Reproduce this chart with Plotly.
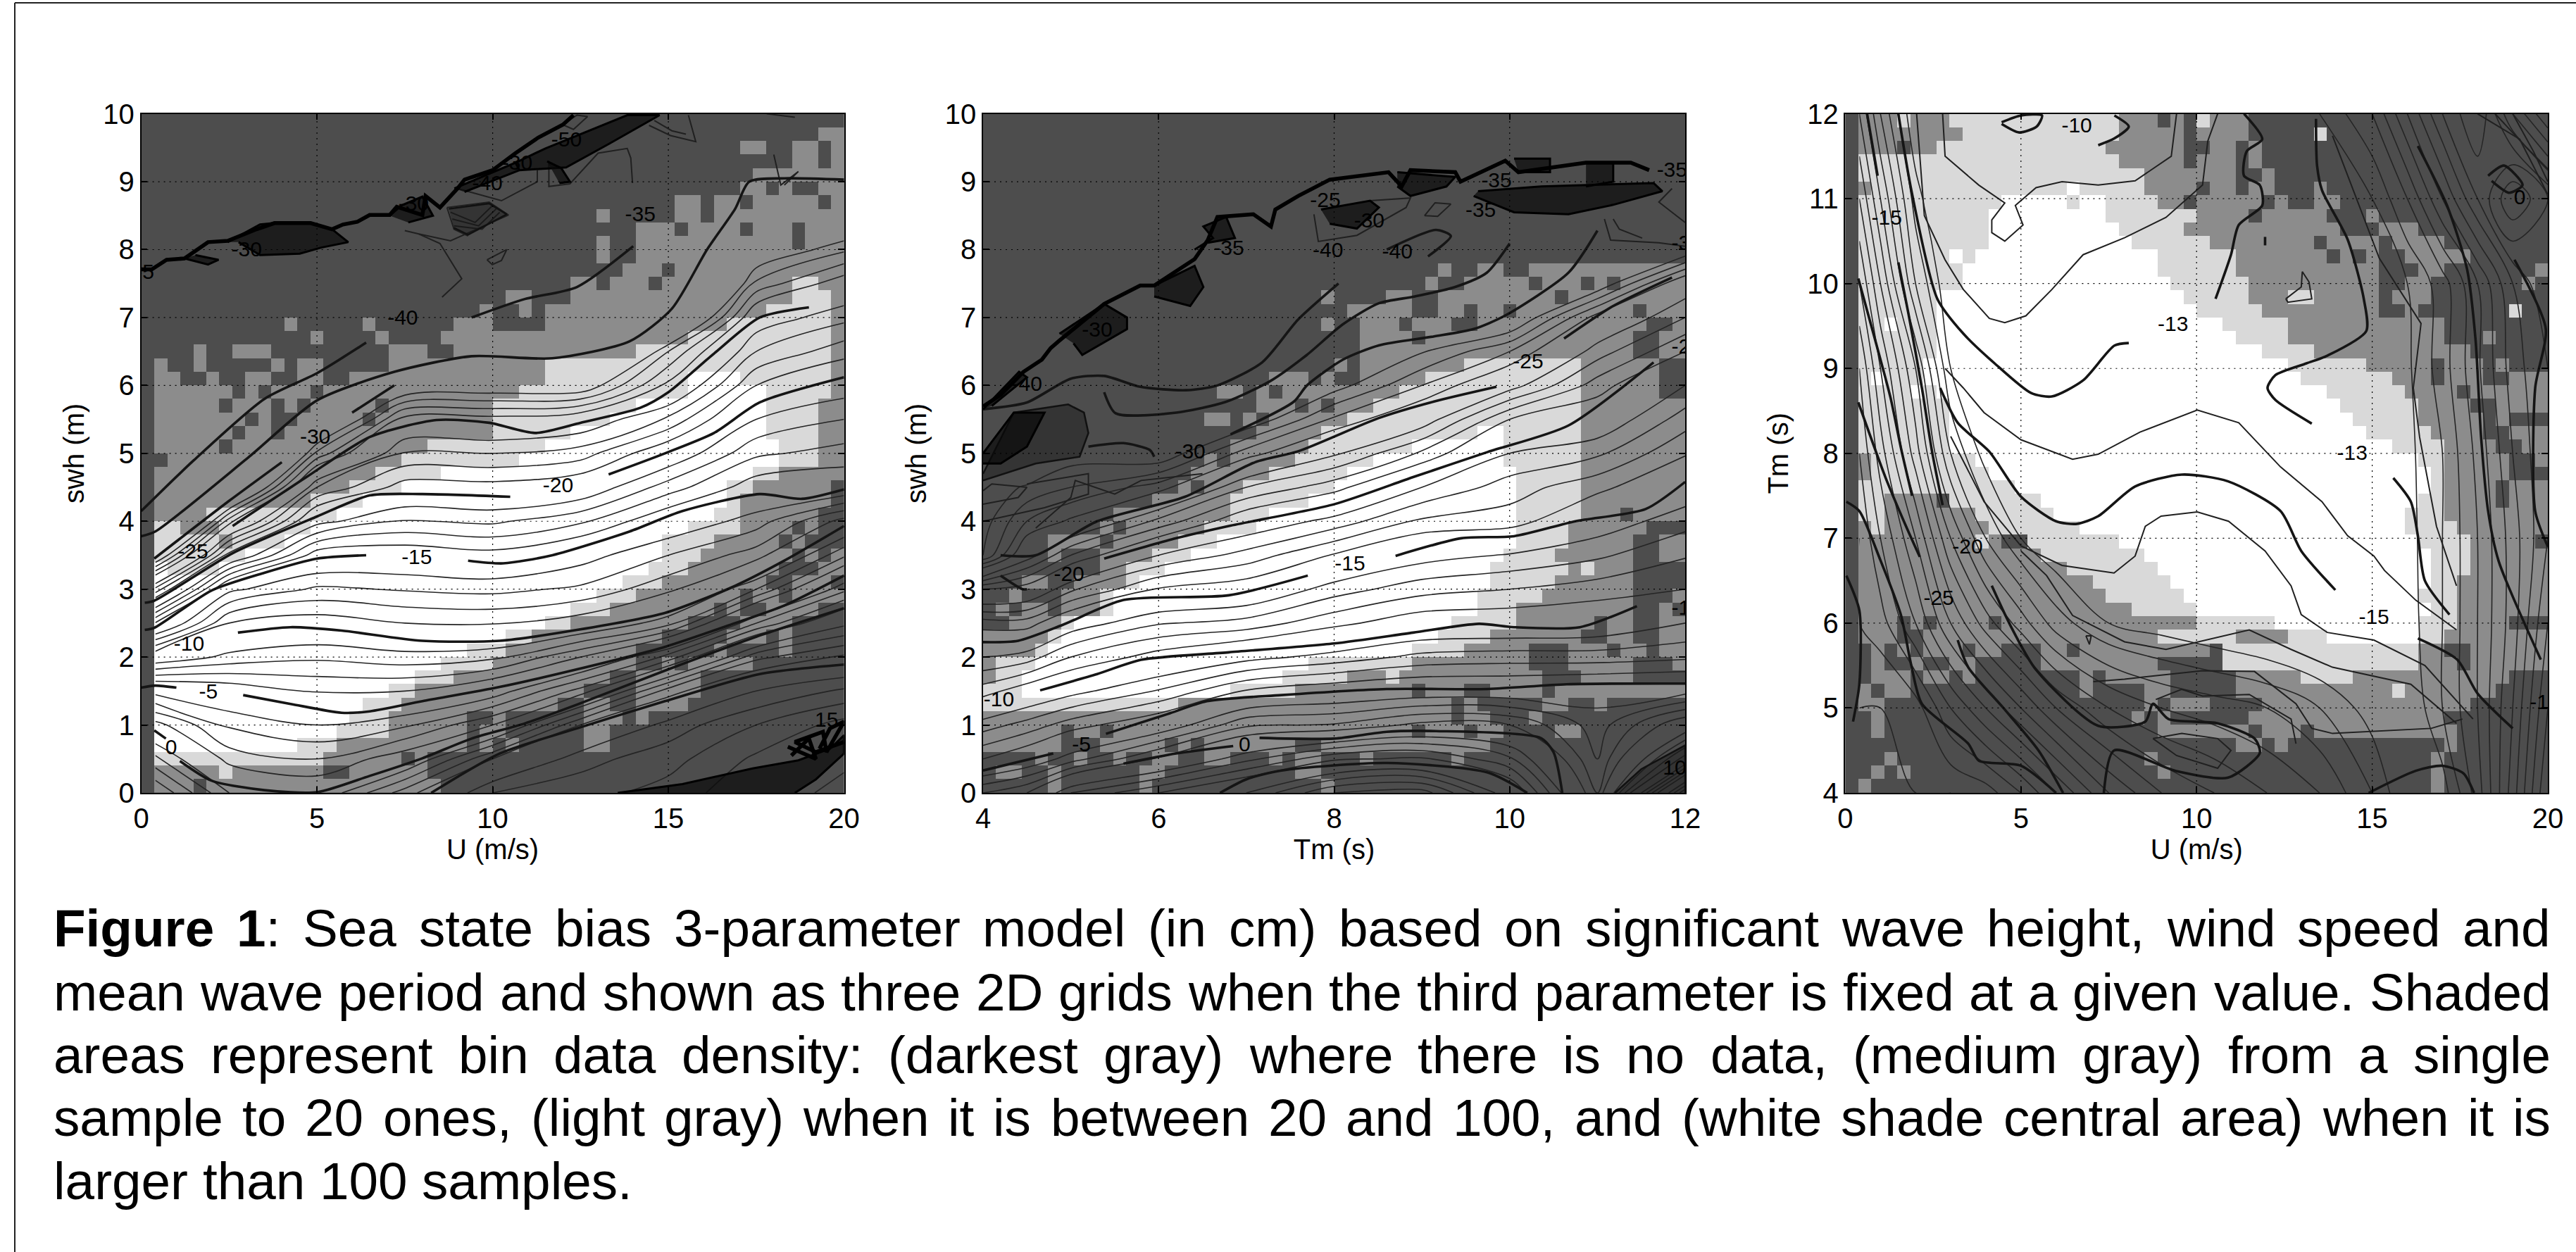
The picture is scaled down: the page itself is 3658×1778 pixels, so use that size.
import numpy as np
import plotly.graph_objects as go

W, H = 3658, 1778
SHADES = ["#4d4d4d", "#8c8c8c", "#d9d9d9", "#ffffff"]

# ---------- density grids: top row first, "column:shade" run starts ----------
DENS1 = [
"0:0","0:0 52:1","0:0 46:1 48:0 50:1 52:0 53:1","0:0 50:1 52:0 53:1","0:0 47:1",
"0:0 46:1 48:0 49:1 50:0 52:1","0:0 41:1 43:0 44:1 46:0 47:1 52:0 53:1","0:0 35:1 36:0 41:1 43:0 44:1",
"0:0 38:1 41:0 42:1 46:0 47:1 50:0 51:1","0:0 35:1 36:0 38:1 50:0 51:1","0:0 35:1 36:0 38:1",
"0:0 37:1 39:1 40:0 41:1","0:0 33:1 35:0 36:1 39:0 40:1 50:2 52:1","0:0 28:1 30:0 33:1 50:2 53:1",
"0:0 26:1 27:0 29:1 30:0 31:1 48:2 53:1","0:0 11:1 12:0 17:1 18:0 24:1 27:0 31:1 45:2 53:1",
"0:0 13:1 14:0 18:1 19:0 23:1 42:2 53:1","0:0 4:1 5:0 7:1 10:0 19:1 22:0 24:1 38:2 53:1",
"0:0 1:1 2:0 4:1 5:0 10:1 11:0 12:1 14:0 19:1 31:2 53:1","0:0 1:1 3:0 5:1 6:0 8:1 10:0 12:1 14:0 16:1 31:2 42:3 46:2 53:1",
"0:0 1:1 7:0 8:1 9:0 10:1 13:0 14:1 29:2 42:3 48:2 53:1","0:0 1:1 6:0 7:1 10:0 11:1 12:0 13:1 18:0 19:1 27:2 38:3 48:2 52:1",
"0:0 1:1 8:0 9:1 10:0 12:1 17:0 18:1 27:2 36:3 48:2 52:1","0:0 1:1 7:0 8:1 10:0 11:1 27:2 33:3 48:2 52:1",
"0:0 1:1 6:0 7:1 22:2 31:3 49:2 52:1","0:0 2:1 20:2 29:3 49:2 52:1","0:0 1:1 18:2 23:3 47:2 49:1",
"0:0 1:1 16:2 20:3 45:2 47:1 53:0","0:0 1:1 13:2 17:3 45:2 46:1 53:0","0:0 1:1 5:2 15:3 44:2 46:1 52:0",
"0:0 1:2 3:1 6:2 13:3 42:2 46:1 50:0 51:1 52:0","0:0 1:2 6:1 7:2 11:3 40:2 44:1 49:0 50:1 51:0",
"0:0 1:2 8:3 40:2 43:1 50:0 51:1 52:0 53:1","0:0 1:3 2:2 6:3 39:2 42:1 49:0 52:1",
"0:0 1:3 37:2 40:1 48:0 50:1 53:0","0:0 1:3 35:2 38:1 46:0 47:1 49:0 50:1",
"0:0 1:3 33:2 36:1 44:0 45:1 46:0 48:1 52:0","0:0 1:3 31:2 33:1 42:0 46:1 50:0",
"0:0 1:3 28:2 30:1 40:0 45:1 48:0 49:1 50:0","0:0 1:3 25:2 28:1 38:0 44:1 45:0 49:1 50:0",
"0:0 1:3 23:2 27:1 38:0 40:1 41:0 42:1 47:0","0:0 1:3 21:2 24:1 36:0 38:1 43:0",
"0:0 1:3 19:2 21:1 34:0 38:1 43:0","0:0 1:3 17:2 20:1 32:0 34:1 36:0 38:1 42:0",
"0:0 1:3 16:2 19:1 25:0 27:1 28:0 34:1 37:0 38:1 39:0","0:0 1:3 15:2 19:1 25:0 26:1 28:0 34:1 36:0",
"0:0 1:3 12:2 15:1 25:0 26:1 27:0 28:1 29:0 34:1 36:0","0:0 1:2 14:1 20:0 21:1 22:0",
"0:0 1:1 6:2 7:1 14:0 16:1 22:0","0:0 1:1 4:0 5:1 23:0",
]
DENS2 = ["0:0"]*11 + [
"0:0 35:1 36:0 38:1 40:0 42:1","0:0 34:1 35:0 37:1 42:0 43:1 46:0 47:1 48:0 49:1",
"0:0 26:1 27:0 31:1 33:0 35:1 44:0 45:1","0:0 28:1 33:0 35:1 37:0 38:1 40:0 41:1 50:0 51:1",
"0:0 26:1 27:0 29:1 32:0 33:1 36:0 38:1 51:0 53:1","0:0 29:1 33:0 34:1 50:0 52:1","0:0 29:1 50:0 52:1",
"0:0 27:1 28:0 29:1 37:2 46:1 52:0","0:0 22:1 25:0 26:1 27:0 29:1 34:2 46:1 52:0","0:0 18:1 20:0 21:1 22:0 23:1 32:2 46:1 52:0",
"0:0 21:1 24:0 25:1 26:0 27:1 30:2 46:1","0:0 17:1 19:0 20:1 21:0 22:1 28:2 46:1","0:0 21:1 26:2 38:3 40:2 46:1",
"0:0 19:1 25:2 33:3 40:2 46:1","0:0 17:1 18:0 19:1 24:2 30:3 40:2 46:1","0:0 16:1 22:2 28:3 41:2 46:1",
"0:0 15:1 16:0 17:1 20:2 27:3 41:2 46:1","0:0 13:1 19:2 25:3 41:2 46:1","0:0 10:1 19:2 22:3 41:2 46:1 49:0 50:1",
"0:0 9:1 10:0 11:1 17:2 21:3 41:2 45:1 51:0","0:0 5:1 9:0 10:1 15:2 18:3 41:2 45:1 50:0 52:1",
"0:0 5:1 6:0 9:1 13:2 16:3 40:2 44:1 50:0 52:1","0:0 9:1 11:2 14:3 39:2 45:1 46:2 47:1 50:0",
"0:0 3:1 5:0 7:1 11:2 12:3 39:2 44:1 50:0","0:0 2:1 3:0 6:1 9:2 10:3 38:2 43:1 50:0 53:1",
"0:0 1:1 2:0 3:1 5:0 6:1 9:2 10:3 38:2 41:1 50:0 52:1 53:0","0:0 2:1 6:2 7:3 36:2 41:1 47:0 48:1 50:0 52:1",
"0:1 5:2 6:3 35:2 39:1 46:0 48:1 50:0 52:1","0:1 4:2 5:3 33:2 37:1 42:0 45:1 48:0 49:1 51:0 52:1",
"0:1 1:2 4:3 25:2 33:1 42:0 45:1 50:0 53:1","0:1 1:2 3:3 23:2 28:1 31:2 32:1 43:0 46:1 50:0",
"0:2 3:3 19:2 24:1 33:0 34:1 37:0 39:1 43:0 44:1","0:2 15:1 36:0 37:1 38:0 43:1 45:0 47:1 48:0",
"0:1 36:0 37:1 39:0 42:1 43:0","0:1 6:0 7:1 9:0 10:1 33:0 34:1 37:0 38:1 40:0 44:1 46:0",
"0:1 6:0 9:1 14:0 15:1 16:0 17:1 24:0 26:1 39:0","0:0 4:1 5:0 7:1 8:0 10:1 11:0 13:1 15:0 17:1 19:0 22:1 23:0 24:1 26:0 29:1 30:0 36:1 37:0",
"0:0 1:1 3:0 5:1 6:0 12:1 14:0 24:1 26:0","0:0 5:1 6:0 12:1 13:0 26:1 27:0",
]
DENS3 = [
"0:0 1:1 4:2 5:1 8:2 21:1 24:0 25:1 26:0 27:2 28:1 31:0","0:0 1:1 9:2 21:1 26:0 27:1 31:0 36:2 37:0",
"0:0 1:1 4:0 5:1 7:2 20:1 26:0 28:1 30:0 31:1 32:0","0:0 1:2 21:1 26:0 27:1 30:0 31:1 32:0",
"0:0 1:2 23:1 30:0 32:1 33:0","0:0 1:1 2:2 17:3 18:2 23:1 27:0 28:1 30:0 31:1 33:0 36:1 37:0",
"0:0 1:2 12:3 17:2 18:3 20:2 24:1 26:0 27:1 32:0 33:1 34:0 36:1 38:0","0:0 1:2 11:3 20:2 27:1 31:0 32:1 37:0 40:1 41:0",
"0:0 1:2 11:3 21:2 26:1 33:1 38:0 41:1 44:0","0:0 1:2 11:3 22:2 28:1 36:0 37:1 41:0 42:1 46:0",
"0:0 1:2 8:3 9:2 10:3 24:2 30:1 37:0 38:1 39:0 40:1 41:0 43:1 48:0","0:0 1:2 9:3 24:2 30:1 41:0 44:1 46:0 53:1",
"0:0 1:2 9:3 25:2 31:1 41:0 43:1 45:0 52:1 53:0","0:0 1:2 7:3 26:2 31:1 34:2 36:1 41:0 42:1 45:0",
"0:0 1:2 7:3 27:2 32:1 41:0 43:1 44:0 51:2 52:0","0:0 1:2 3:3 4:2 7:3 29:2 34:1 45:1 46:0",
"0:0 1:2 7:3 30:2 34:1 46:0 49:1 50:0","0:0 1:2 7:3 32:2 36:1 48:0","0:0 1:2 6:3 34:2 40:1 45:0 46:1 49:0 50:1 51:0",
"0:0 1:2 2:3 3:2 6:3 35:2 42:1 45:0 46:1 49:0 51:1","0:0 1:2 5:3 6:2 7:3 37:2 43:1 47:0 48:1",
"0:0 1:2 8:3 38:2 44:1 48:0 50:1","0:0 1:2 8:3 39:2 44:1 49:0 50:1 51:0","0:0 1:2 8:3 40:2 45:1 49:0 51:1",
"0:0 1:2 8:3 42:2 46:1 50:0 52:1","0:0 1:1 2:2 10:3 44:2 46:1 51:0 53:1","0:0 1:1 2:2 11:3 45:2 46:1 51:0",
"0:0 1:2 13:3 45:2 46:1 50:0 51:1","0:0 1:2 3:1 7:0 8:2 15:3 44:2 46:1 50:0 51:1","0:0 1:2 3:1 10:2 16:3 43:2 46:1",
"0:0 1:1 2:2 3:1 11:2 18:3 43:2 47:1","0:0 1:1 10:2 11:1 12:0 14:2 21:3 44:2 48:1 53:0","0:0 1:1 15:2 23:3 45:2 48:1",
"0:0 1:1 17:2 24:3 45:2 48:1","0:0 1:1 19:2 25:3 45:2 47:1","0:0 1:1 20:2 26:3 44:2 47:1","0:0 1:1 22:2 27:3 45:2 47:1",
"0:0 1:1 4:0 5:1 6:0 7:1 11:0 12:1 27:2 33:3 44:2 47:1 51:0","0:0 1:1 4:0 6:1 24:2 30:1 34:2 37:3 44:2 46:1",
"0:0 2:1 3:0 4:1 5:0 6:1 9:0 10:1 12:0 15:1 17:0 18:1 28:0 29:2 44:1 46:0 48:1","0:0 2:1 3:0 5:1 6:0 8:1 10:0 15:1 24:0 29:2 44:1 47:0 48:1",
"0:0 2:1 5:0 6:1 8:0 9:1 10:0 18:1 19:0 20:1 25:0 30:1 35:2 39:1 51:0","0:0 1:1 2:0 3:1 5:0 18:1 19:0 23:1 25:0 30:1 42:2 43:1 50:0",
"0:0 1:1 3:0 23:1 24:0 25:1 28:0 32:1 48:0","0:0 2:1 3:0 22:1 23:0 24:1 25:0 31:1 46:0","0:0 2:1 3:0 24:1 31:0 32:1 35:0 36:1 47:0",
"0:0 30:1 32:0 33:1 34:0 46:1 47:0","0:0 3:1 4:0 23:1 24:0 45:1 46:0","0:0 2:1 3:0 4:1 5:0 24:1 25:0 45:1 46:0","0:0 1:1 2:0 45:1 46:0",
]

# ---------- bias fields for the thin contours ----------
SWH_ROWS = [i*0.5 for i in range(21)]
U1 = [0.4, 2.5, 5, 7.5, 10, 12.5, 15, 17.5, 20]
Z1 = [
[5,2.3,-.6,-4.4,-10,-15.9,-22.7,-30.7,-38],
[1,-1.4,-3.2,-5.2,-8.7,-11,-14.3,-20.5,-26.4,-33.5,-39],
[0,-2,-4,-6.1,-8.2,-10.4,-12.8,-15.4,-19.4,-23,-27.7,-32.3,-38],
[3.5,-.3,-3.2,-6,-8.6,-11,-13.1,-15.2,-17.9,-20.5,-22.9,-25.5,-30.4,-37,-40.3],
[7,4,-1,-4.7,-8.3,-11.1,-13.3,-15.6,-18.2,-20.6,-23,-25.6,-30,-35.6,-39],
[7.6,6.6,4,-1.6,-6,-10.4,-12.8,-14.5,-17.2,-20,-22.5,-25,-30,-35.3,-37.5,-40],
[8.4,7.6,6.4,3.5,-2.6,-8.4,-11.3,-13,-15,-17.5,-20,-22.8,-25.7,-28,-33,-37,-40],
[9.8,9.2,8,6,2.7,-3,-8,-11.5,-13.5,-15.4,-17.2,-19,-21,-23,-24.8,-27.7,-30.5,-32.4,-34.8,-38],
[11.6,10.6,9.4,7.2,4.2,.7,-3.3,-7.2,-10.6,-15.1,-16.6,-18,-19.6,-21.4,-23.3,-25.3,-28.2,-31.3,-34.8,-38],
]
TM2 = [4, 4.5, 5, 6, 7, 8, 9, 10, 11, 12]
Z2 = [
[-2,-6,-8.5,-11.5,-14,-16.5,-21,-29,-29.5,-29.9,-38],
[-1,-5,-7.6,-10.3,-13.5,-16.5,-20.4,-24.6,-27,-28.8,-31.5,-35],
[2,-3.5,-6.5,-9.4,-12,-14.7,-18.2,-22,-25.8,-28,-29.6,-33,-40],
[4,-.8,-5,-7.9,-10.5,-13.1,-15.9,-19,-22.7,-26.5,-30,-34,-40.5],
[6,1.7,-2.2,-5.9,-9.4,-12.6,-15.3,-17.6,-20,-23,-26.5,-30,-36.5],
[9,3.8,-1.9,-5.2,-8.6,-11.3,-13.5,-15.9,-18.6,-21.4,-24.2,-26.8,-29.5,-33,-36.7,-40.3],
[9.5,4.2,-.7,-4.8,-7.7,-10.3,-12.4,-14.5,-16.8,-19,-21.8,-24.7,-27,-29.1,-32.3,-36.2,-40],
[5.3,2.2,-1,-4.8,-7.5,-10.2,-12,-13.9,-16.5,-17.5,-19,-21,-24.5,-27,-30.5,-33,-35,-37.5],
[-2,-3,-3.5,-4.5,-7.5,-10,-11.5,-13.2,-14.7,-16.3,-18.2,-20,-21.5,-23.5,-25.5,-30,-32.5,-35],
[14,4.5,0,-4.4,-7.2,-9,-11,-12.1,-13.4,-14.8,-16.1,-17.5,-19,-21,-23,-24.8,-30,-34,-35],
]
U3 = [.4,1,2,3,4,5,6,7.5,9,10.5,12,13.5,15,16,17,18,19,20]
TM3 = [4,5,6,7,8,9,10,11,12]
Z3 = [
[-31,-31,-31,-31,-30.5,-29,-27,-24,-22,-21,-20,-19,-17,-15,-12.5,-9.5,-5.5,-1],
[-31,-31,-30.5,-28,-26,-24,-22,-20,-19,-18.5,-18,-17,-15.5,-13,-11,-9,-6,-2],
[-30,-29.5,-27,-24,-21.5,-19.5,-17.5,-16,-15.5,-15,-14.5,-14,-13.5,-12.5,-11,-9,-6.5,-3],
[-30,-28,-25,-21,-18,-16,-15,-14,-14,-14,-14,-14,-13.2,-12.4,-11,-9,-6.5,-4],
[-29,-26.5,-22.5,-18,-15.5,-14,-14,-14,-14,-14,-14,-14,-13,-12.3,-11,-8.7,-6,-4],
[-28,-25,-21,-16,-14,-14,-14,-14,-14,-14,-14,-14,-12.8,-12.2,-10.5,-8.2,-5.5,-4],
[-26,-23,-18,-15,-14,-14,-14,-14,-14,-14,-14,-14,-12.5,-12,-10.5,-8,-5,-3],
[-24,-21,-16.5,-14,-14,-14,-14,-14,-14,-14,-14,-13.5,-12,-10,-7,-4,-1,-3],
[-22,-19,-15,-14,-14,-14,-14,-14,-14,-14,-13.5,-12,-10,-7,-4,-2,-6,-9],
]

# ---------- heavy contour lines, (x, y) in data units ----------
HEAVY1 = [
[(0,4.15),(1.5,4.9),(3.5,5.8),(5,6.18),(6.4,6.63)],
[(9.4,7.0),(10.9,7.27),(12.4,7.45),(14,8.05)],
[(0,3.78),(.4,3.85),(3.07,4.95),(5,5.78),(7.2,6.2),(9.4,6.43),(11.7,6.4),(13.9,6.65),(15.1,7.13),(16.1,8),(16.9,8.6),(17.3,9),(18.3,9.05),(20,9.03)],
[(.37,3.45),(2.5,4.3),(4,4.87)],
[(6,5.6),(7.2,6.0)],
[(2.6,3.93),(4.7,4.65),(6.5,5.24),(8.4,5.49),(9.9,5.45),(11.2,5.3),(12.5,5.45),(14.2,5.67),(15,5.9),(16.3,6.47),(17.6,7),(19,7.15)],
[(.1,2.8),(.37,2.83),(2.6,3.53),(5,4.07),(6.5,4.38),(8,4.4),(10.5,4.36)],
[(13.3,4.69),(14.9,5),(16.3,5.3),(17.6,5.75),(20,6.12)],
[(.1,2.4),(.37,2.43),(2,2.98),(3.5,3.24),(5,3.45),(6.4,3.5)],
[(9.3,3.42),(10.3,3.38),(11.7,3.5),(13.9,3.85),(15.4,4.15),(17.6,4.4),(18.8,4.33),(20,4.47)],
[(2.75,2.36),(4.25,2.44),(5.7,2.39),(8,2.24),(10.2,2.24),(12.4,2.4),(14.9,2.65),(16.9,3.05),(18.3,3.42),(20,3.93)],
[(0,1.55),(.4,1.58),(1,1.55)],
[(2.9,1.44),(4.25,1.31),(5.7,1.18),(6.5,1.2),(8,1.35),(10.2,1.56),(12.4,1.82),(14.9,2.15),(16.9,2.5),(18.3,2.76),(20,3.2)],
[(.37,.92),(.7,.8)],
[(1.1,.47),(2,.18),(3.5,.04),(5,.01),(6.5,.25),(8,.51),(9.4,.8),(10.9,1.02),(12.4,1.3),(15,1.82),(17.5,2.3),(20,2.72)],
[(8.25,0),(10.2,.58),(12.4,.95),(14.9,1.35),(17.6,1.75),(20,1.89)],
]
NOISE1 = [
[(0,7.71),(.3,7.71),(.72,7.85),(1.23,7.87),(1.9,8.11),(2.46,8.13),(3.28,8.3),(3.79,8.39),(4.82,8.39),(5.43,8.3),(5.74,8.37),(6.15,8.41),(6.5,8.51),(7.07,8.51),(7.27,8.63),(8,8.51),(8.09,8.79),(8.5,8.62),(9,8.9),(9.2,9.03),(10,9.17),(10.65,9.42),(11.3,9.65),(12,9.84),(12.3,9.98)],
[(19.3,.65),(19.6,.95),(20,1.05),(19.5,.6),(19.4,.9),(18.6,.75),(19.2,.6),(20,.75)],
[(18.4,.68),(19.2,.5),(19,.8),(18.5,.55)],
]
# dense knots of contours, drawn as filled outlines
BLOBS1 = [
[(2.46,8.11),(3.38,8.37),(3.79,8.39),(4.82,8.39),(5.43,8.3),(5.89,8.11),(5.12,8.03),(4.51,7.94),(3.38,7.92),(2.77,8.11)],
[(1.54,7.92),(2.2,7.85),(1.9,7.78),(1.23,7.87)],
[(10.65,9.28),(11.5,9.49),(13.83,9.98),(14.75,9.98),(13.32,9.56),(12.09,9.21),(10.76,9.17)],
[(8.91,8.9),(10.65,9.28),(10.76,9.17),(9.2,8.85)],
[(7.07,8.5),(7.4,8.65),(8.0,8.78),(8.3,8.5),(7.6,8.4)],
[(13.56,0),(15.4,.13),(17.4,.36),(18.7,.48),(19.6,.65),(20,.85),(20,.58),(19.2,.2),(18.6,0)],
[(11.55,9.3),(11.95,9.2),(12.2,9.0),(11.9,8.98)],
]
THIN1 = [
[(7.5,8.28),(7.9,8.23),(8.8,8.13),(10.45,8.51),(9.9,8.7),(8.7,8.62)],
[(9.3,8.2),(8.9,8.3),(8.7,8.62)],
[(8.8,8.55),(9.5,8.4),(10,8.65)],[(8.85,8.45),(9.6,8.35),(10.1,8.6)],[(8.9,8.35),(9.7,8.3),(10.2,8.55)],
[(7.9,8.23),(8.5,8.09),(9.12,7.57),(8.56,7.3)],
[(9.84,7.85),(10.4,8),(10.25,7.84),(9.99,7.78),(9.84,7.85)],
[(9,8.9),(10.25,8.72),(11.27,9),(11.27,9.17)],
[(11.6,9.31),(11.6,8.93),(12.2,8.97),(13,9.42),(13.83,9.49),(13.93,9.35),(13.98,8.98)],
[(14.45,9.83),(15.06,9.68),(15.78,9.59),(15.57,9.98)],[(14.6,9.9),(15.1,9.75),(15.5,9.7)],
[(11.99,9.84),(12.4,9.98),(12.7,9.96),(12.3,9.77),(11.99,9.84)],
[(17.8,10),(18.6,9.95)],
[(18,9.4),(18.2,8.95),(18.7,9.15),(18.3,8.95)],
]
HEAVY2 = [
[(4,.33),(4.8,.58)],
[(5.4,.87),(6.1,1.16),(6.55,1.35),(7.4,1.44),(8.6,1.53),(9.75,1.53),(10.65,1.6),(12,1.61)],
[(4.65,1.51),(5.3,1.75),(5.8,1.96),(6.8,2.07),(8,2.2),(8.9,2.36),(9.65,2.49),(10.05,2.44),(10.8,2.44),(11.45,2.75)],
[(4,2.22),(4.4,2.24),(4.9,2.47),(5.6,2.84),(6.8,2.91),(7.7,3.2)],
[(8.7,3.49),(9.45,3.75),(10.05,3.78),(10.75,4),(11.55,4.18),(12,4.58)],
[(5.38,3.45),(6.2,3.75),(6.8,3.93),(8,4.25),(8.9,4.65),(9.75,5.02),(10.67,5.41),(11.64,6.34)],
[(4.2,3.2),(4.45,3),(4.5,3.0)],
[(4.2,3.5),(4.6,3.5),(5.3,4),(6.3,4.36),(7.1,4.87),(7.59,5.03),(8.51,5.52),(9.13,5.76),(9.85,5.98)],
[(10.62,6.69),(11.18,7.17),(11.85,7.59)],
[(6.82,5.28),(7.54,5.76),(7.69,6),(8.1,6.38),(8.51,6.59),(9.13,6.72),(9.59,6.83),(9.95,7.03),(10.67,7.66),(11,8.28)],
[(5.38,5.9),(5.51,5.59),(6.2,5.6),(6.77,5.76),(7.28,6.07),(7.69,6.45),(8.1,6.9),(8.51,7.21),(8.92,7.31),(9.38,7.45),(9.74,7.66),(10,8.09)],
[(4,5.65),(4.5,5.75),(5,6.1),(5.38,6.14),(5.79,5.98),(6.31,5.93),(6.67,6),(7.18,6.34),(7.59,6.97),(8.05,7.5)],
[(8.6,8),(9.16,8.29),(9.33,8.2),(9.07,7.9)],
[(5.2,5.1),(5.6,5.15),(5.9,5.05),(5.95,4.95)],
[(5.6,.43),(6.2,.58),(6.85,.69)],
[(7.15,.81),(8,.8),(8.6,.9),(9.16,.91),(10.35,.81),(10.5,.6),(10.6,0)],
[(6.7,0),(7,.2),(7.4,.33),(8.6,.44),(9.75,.3),(10.2,0)],
]
NOISE2 = [
[(4,5.69),(4.2,5.86),(4.46,6.2),(4.67,6.38),(4.77,6.55),(4.87,6.66),(5.38,7.2),(5.79,7.47),(5.95,7.47),(6.41,7.86),(6.56,8.14),(6.67,8.48),(7.08,8.52),(7.28,8.34),(7.33,8.59),(7.59,8.79),(7.95,9.03),(8.62,9.14),(8.77,8.93),(8.87,9.17),(9.38,9.14),(9.44,9),(9.95,9.31),(10.1,9.14),(10.87,9.28),(11.38,9.28),(11.59,9.17)],
]
BLOBS2 = [
[(4,5.65),(4.41,6.2),(4.5,6.12),(4.1,5.7)],
[(4.87,6.76),(5.38,7.2),(5.64,7.0),(5.64,6.83),(5.13,6.45),(5.03,6.62)],
[(5.95,7.47),(6.41,7.76),(6.51,7.45),(6.36,7.17),(5.95,7.31)],
[(6.41,8.0),(6.62,8.17),(6.51,8.34),(6.77,8.48),(6.87,8.17),(6.56,8.1)],
[(7.85,8.59),(8.41,8.72),(8.51,8.62),(8.26,8.31),(7.95,8.38)],
[(8.72,9.14),(9.38,9.07),(9.28,8.93),(8.87,8.79),(8.72,8.93)],
[(9.64,8.86),(10.36,8.93),(11.64,8.98),(11.74,8.86),(11.18,8.66),(10.67,8.52),(10.05,8.55),(9.59,8.79)],
[(10.05,9.34),(10.46,9.34),(10.46,9.14),(10.1,9.14)],
[(10.87,9.28),(11.18,9.28),(11.18,9),(10.87,8.93)],
[(4,5),(4.35,5.6),(4.7,5.6),(4.5,5.1),(4.2,4.85),(4,4.85)],
]
# softer knots: many fine contours packed together
SOFT2 = [
[(4,4.7),(4.35,5.6),(4.97,5.72),(5.15,5.6),(5.2,5.3),(5.1,4.95),(4.6,4.85),(4,4.6)],
[(11.2,0),(11.5,.35),(12,.7),(12,0)],
]
SOFT1 = [[(8.75,8.6),(9.9,8.68),(10.4,8.52),(9.3,8.22),(8.9,8.32)]]
THIN2 = [
[(7.77,8.52),(7.82,8.12),(8.26,8.21),(8.82,8.62),(8.87,8.76),(8.41,8.72)],
[(9.03,8.5),(9.15,8.69),(9.33,8.67),(9.18,8.49),(9.03,8.5)],
[(11.08,8.45),(11.15,8.14),(11.7,8.1),(12,8.05)],
[(11.18,8.45),(11.25,8.3),(11.51,8.17)],
[(11.85,8.9),(11.7,8.7),(12,8.4)],
[(4.6,3.9),(5,4.35),(5.05,4.6),(5.5,4.4),(5.8,4.6),(6.5,4.7)],
[(4,4),(4.7,4.2),(5.2,4.4),(5.2,4.7),(4.5,4.55)],
[(4,4.25),(4.4,4.35),(4.5,4.5),(4.1,4.55),(4,4.45)],
]
HEAVY3 = [
[(.62,12),(.92,11.27)],
[(1.51,10.25),(1.8,9.64),(2.18,8.77),(2.47,8.02),(2.77,7.39)],
[(.37,10.06),(.84,9.35),(1.29,8.65),(1.58,8.07),(1.9,7.5)],
[(.37,8.6),(1.14,7.72),(1.73,7.14),(2.12,6.78)],
[(1.51,12),(1.88,11.1),(2.62,9.82),(3.36,9.41),(4.25,9.06),(5.29,8.71),(5.88,8.67),(6.77,8.86),(7.66,9.27),(8.07,9.3)],
[(2.7,8.77),(3.2,8.36),(4.1,8.02),(5,7.49),(6,7.2),(6.6,7.17),(7.2,7.26),(8.25,7.61),(9.58,7.75),(10.9,7.67),(12.39,7.32),(12.98,6.85),(13.95,6.39)],
[(13.28,8.35),(12.24,8.63),(12.02,8.77),(12.24,8.92),(13.13,9.06),(13.72,9.15),(14.83,9.44),(14.76,9.82),(14.3,10.52),(13.57,11.1),(13.43,11.39),(13.4,11.94)],
[(10.54,9.82),(10.98,10.34),(11.2,10.69),(11.87,10.92),(11.8,11.16),(11.35,11.27),(11.43,11.56),(11.87,11.7),(11.35,12)],
[(15.6,7.71),(16.1,7.43),(16.3,7.03),(16.5,6.5),(17.2,6.1)],
[(16.3,5.82),(17.42,5.57),(18,5.17),(19,4.76)],
[(16.3,11.62),(17.13,10.92),(17.7,10.17),(17.94,9.35),(18.1,8.19),(18.3,7.32),(18.6,6.73),(19.8,5.57)],
[(19.05,10.28),(19.94,9.47),(19.64,8.77),(19.64,7.32),(20,6.9)],
[(.03,6.56),(.4,6.15),(.4,5.28),(.22,4.84)],
[(.03,7.43),(.4,7.32),(1,6.74),(1.58,6.1),(1.88,5.5),(2.18,5.05),(3.5,4.58),(3.8,4.38),(5,4.32),(6,4)],
[(3.2,5.8),(3.5,5.48),(4.5,5.0),(5.5,4.5),(6.2,4)],
[(4.17,6.44),(4.69,5.98),(5.43,5.45),(7.2,4.79),(8.54,4.84),(8.76,5.05),(9.2,4.87),(10.6,4.82),(11.65,4.64),(11.8,4.47),(10.9,4.18),(9.4,4.26),(7.65,4.5),(7.36,4)],
[(14.9,4),(16.24,4.26),(17,4.32),(17.6,4.23),(17.9,4)],
[(4.45,11.9),(5,11.98),(5.6,11.98),(5.45,11.85),(4.95,11.78),(4.45,11.88)],
[(7.2,11.63),(7.66,11.71),(8.07,11.85),(7.66,11.98)],
[(18.3,11.27),(18.75,11.39),(19.28,11.16),(18.9,11.07),(18.4,11.21)],
[(11.95,10.45),(11.95,10.55)],
]
THIN3 = [
[(2.77,12),(2.84,11.5),(3.8,11.16),(4.54,10.95),(4.17,10.75),(4.17,10.6),(4.54,10.5),(5.06,10.69),(4.84,10.92),(5.43,11.13),(6.17,11.2),(7.2,11.16),(8.25,11.21),(9.28,11.5),(9.43,12)],
[(2.03,12),(2.25,10.8),(2.84,10.28),(3.36,9.93),(4.1,9.59),(4.54,9.54),(5.14,9.62),(5.88,9.93),(6.77,10.34),(7.95,10.54),(9.13,10.78),(10.17,11.16),(10.32,11.68),(10.6,12)],
[(2.84,9),(3.36,8.77),(3.95,8.48),(5,8.16),(6.47,7.93),(7.2,7.99),(8.39,8.25),(10.02,8.51),(11.2,8.36),(12.39,7.84),(13.57,7.43),(14.3,7.03),(15.05,6.79),(15.35,6.62),(16.24,6.27),(17.4,5.92)],
[(3,8.2),(3.95,7.43),(5,6.91),(6.17,6.68),(7.65,6.59),(8.25,6.79),(8.54,7.14),(8.99,7.26),(10.02,7.31),(10.91,7.2),(11.95,6.85),(12.69,6.44),(12.98,6.1),(13.72,5.89),(15.05,5.8),(16.5,5.5),(17.87,4.87)],
[(5,6.85),(5.73,6.56),(6.47,6.09),(7.95,5.78),(9.13,5.69),(10.6,5.83),(11.5,5.92),(12.69,5.69),(13.87,5.48),(16.1,5.28),(17.4,4.82)],
[(7.06,5.31),(7.95,5.34),(10.17,5.44),(11.65,5.43),(12.83,5.05),(13.28,4.76),(13.87,4.7),(15.35,4.73),(16.68,4.76),(17.57,4.87)],
[(8.84,5.1),(9.58,5.22),(10.17,5.14),(11.5,5.16),(12.69,4.87),(12.83,4.58)],
[(8.76,4.64),(9.58,4.7),(10.6,4.64),(10.98,4.5),(10.6,4.29),(9.43,4.44),(8.76,4.64)],
[(12.54,9.82),(12.98,9.96),(13.01,10.14),(13.2,10.02),(13.28,9.82),(12.6,9.78),(12.54,9.82)],
[(13.87,11.74),(15.2,10.3),(16.39,9.53),(16.17,8.77),(16.35,8.19),(16.83,7.14),(17.4,6.44)],
[(6.85,5.85),(6.95,5.75),(7.0,5.85),(6.85,5.85)],
[(19,12),(19.6,11.55),(20,11.2)],[(18.5,12),(19.4,11.6),(20,11.35)],[(18,12),(19.2,11.7),(20,11.05)],
]

# ---------- labels ----------
LABELS1 = [("-40",7.44,6.97),("-35",14.2,8.5),("-30",4.95,5.22),("-25",1.47,3.53),("-20",11.86,4.51),("-15",7.84,3.45),
           ("-10",1.36,2.17),("-5",1.91,1.47),("0",.85,.65),("15",19.5,1.05),("-40",9.85,8.95),("-30",10.7,9.25),
           ("-30",7.75,8.65),("-50",12.1,9.6),("-30",3,7.98),("-5",0.1,7.65)]
LABELS2 = [("-15",8.18,3.35),("-25",10.21,6.33),("-30",6.36,5.0),("-20",4.98,3.2),("-10",4.18,1.35),("-5",5.12,.69),("0",6.98,.69),
           ("-40",7.93,7.97),("-40",8.72,7.95),("-35",9.67,8.56),("-35",9.85,9),("-35",11.85,9.15),("-3",11.95,8.07),("-2",11.95,6.55),
           ("-1",11.95,2.7),("10",11.88,.35),("-40",4.5,6.0),("-35",6.8,8.0),("-30",8.4,8.4),("-25",7.9,8.7),("-30",5.3,6.8)]
LABELS3 = [("-15",1.18,10.76),("-13",9.33,9.5),("-13",14.43,7.99),("-15",15.05,6.05),("-20",3.48,6.88),("-25",2.66,6.28),
           ("-10",6.59,11.84),("0",19.2,11.0),("-1",19.75,5.05)]

XT1 = [0,5,10,15,20]; YT1 = list(range(0,11))
XT2 = [4,6,8,10,12]; YT2 = list(range(0,11))
XT3 = [0,5,10,15,20]; YT3 = list(range(4,13))

CAPTION = [
 "Figure 1: Sea state bias 3-parameter model (in cm) based on significant wave height, wind speed and",
 "mean wave period and shown as three 2D grids when the third parameter is fixed at a given value. Shaded",
 "areas represent bin data density: (darkest gray) where there is no data, (medium gray) from a single",
 "sample to 20 ones, (light gray) when it is between 20 and 100, and (white shade central area) when it is",
 "larger than 100 samples.",
]

# ---------- build ----------
def grid_from_runs(rows):
    out = []
    for row in rows:
        line = [0]*54
        parts = [p.split(":") for p in row.split()]
        for i, (c, v) in enumerate(parts):
            end = int(parts[i+1][0]) if i+1 < len(parts) else 54
            line[int(c):end] = [int(v)]*(end-int(c))
        out.append(line)
    return out[::-1]

def pad(col, n=21, fill=-42):
    return list(col) + [fill]*(n-len(col))

fig = go.Figure()
cs = []
for i, c in enumerate(SHADES):
    cs += [[i/4, c], [(i+1)/4, c]]

PANELS = [
 dict(ax="", dom=(200.6,1198.6), xr=(0,20), yr=(0,10), dens=DENS1, heavy=HEAVY1, noise=NOISE1, blobs=BLOBS1, soft=SOFT1, thin=THIN1, labels=LABELS1,
      xt=XT1, yt=YT1, xtitle="U (m/s)", ytitle="swh (m)"),
 dict(ax="2", dom=(1396,2393), xr=(4,12), yr=(0,10), dens=DENS2, heavy=HEAVY2, noise=NOISE2, blobs=BLOBS2, soft=SOFT2, thin=THIN2, labels=LABELS2,
      xt=XT2, yt=YT2, xtitle="Tm (s)", ytitle="swh (m)"),
 dict(ax="3", dom=(2620.4,3618), xr=(0,20), yr=(4,12), dens=DENS3, heavy=HEAVY3, noise=[], blobs=[], soft=[], thin=THIN3, labels=LABELS3,
      xt=XT3, yt=YT3, xtitle="U (m/s)", ytitle="Tm (s)"),
]
FIELDS = [
 (U1, SWH_ROWS, np.array([pad(c) for c in Z1]).T, [(-29,30)]),
 (TM2, SWH_ROWS, np.array([pad(c) for c in Z2]).T, [(-29,30)]),
 (U3, TM3, np.array(Z3), [(-40,-16),(-12,0)]),
]
INK = "#151515"
for p, (fx, fy, fz, bands) in zip(PANELS, FIELDS):
    xa, ya = "x"+p["ax"], "y"+p["ax"]
    dx = (p["xr"][1]-p["xr"][0])/54; dy = (p["yr"][1]-p["yr"][0])/50
    fig.add_trace(go.Heatmap(z=grid_from_runs(p["dens"]), x0=p["xr"][0]+dx/2, dx=dx, y0=p["yr"][0]+dy/2, dy=dy,
                             zmin=0, zmax=4, colorscale=cs, showscale=False, xaxis=xa, yaxis=ya, hoverinfo="skip"))
    for lo, hi in bands:
        offsets = range(4) if hi > 0 and lo == -29 else [None]
        for k in offsets:
            cont = dict(start=lo+k, end=hi, size=5, coloring="none") if k is not None else dict(start=lo, end=hi, size=1, coloring="none")
            fig.add_trace(go.Contour(x=fx, y=fy, z=fz, contours=cont, showscale=False, hoverinfo="skip",
                                     line=dict(color="#252525", width=1.6, smoothing=1), xaxis=xa, yaxis=ya))
    for pts in p["thin"]:
        fig.add_trace(go.Scatter(x=[q[0] for q in pts], y=[q[1] for q in pts], mode="lines", xaxis=xa, yaxis=ya,
                                 line=dict(color="#202020", width=2), showlegend=False))
    for pts in p["heavy"]:
        fig.add_trace(go.Scatter(x=[q[0] for q in pts], y=[q[1] for q in pts], mode="lines", xaxis=xa, yaxis=ya,
                                 line=dict(color=INK, width=3.6, shape="spline", smoothing=.7), showlegend=False))
    for pts in p["soft"]:
        fig.add_trace(go.Scatter(x=[q[0] for q in pts], y=[q[1] for q in pts], mode="lines", fill="toself",
                                 fillcolor="rgba(20,20,20,0.42)", xaxis=xa, yaxis=ya,
                                 line=dict(color="#111111", width=2.5), showlegend=False))
    for pts in p["blobs"]:
        fig.add_trace(go.Scatter(x=[q[0] for q in pts], y=[q[1] for q in pts], mode="lines", fill="toself",
                                 fillcolor="rgba(8,8,8,0.7)", xaxis=xa, yaxis=ya,
                                 line=dict(color="#000000", width=3), showlegend=False))
    for pts in p["noise"]:
        fig.add_trace(go.Scatter(x=[q[0] for q in pts], y=[q[1] for q in pts], mode="lines", xaxis=xa, yaxis=ya,
                                 line=dict(color="#000000", width=5.5), showlegend=False))
    fig.add_trace(go.Scatter(x=[l[1] for l in p["labels"]], y=[l[2] for l in p["labels"]], text=[l[0] for l in p["labels"]],
                             mode="text", textposition="middle center", xaxis=xa, yaxis=ya, showlegend=False,
                             textfont=dict(family="Liberation Sans", size=30, color="#000000")))
    for v in p["xt"][1:-1]:
        fig.add_trace(go.Scatter(x=[v,v], y=list(p["yr"]), mode="lines", xaxis=xa, yaxis=ya, showlegend=False,
                                 line=dict(color="#000000", width=1.2, dash="2px 6px")))
    for v in p["yt"][1:-1]:
        fig.add_trace(go.Scatter(x=list(p["xr"]), y=[v,v], mode="lines", xaxis=xa, yaxis=ya, showlegend=False,
                                 line=dict(color="#000000", width=1.2, dash="2px 6px")))

TOP, BOT = 161.6, 1126
font = dict(family="Liberation Sans", size=40, color="#000000")
layout = {}
for p in PANELS:
    ax = dict(domain=[p["dom"][0]/W, p["dom"][1]/W], range=list(p["xr"]), anchor="y"+p["ax"], tickmode="array",
              tickvals=p["xt"], ticks="inside", ticklen=9, tickcolor="#000", tickwidth=1.5, showgrid=False, zeroline=False,
              showline=True, linecolor="#000", linewidth=1.5, mirror="ticks", tickfont=font,
              title=dict(text=p["xtitle"], font=font, standoff=0), automargin=False)
    ay = dict(domain=[1-BOT/H, 1-TOP/H], range=list(p["yr"]), anchor="x"+p["ax"], tickmode="array",
              tickvals=p["yt"], ticks="inside", ticklen=9, tickcolor="#000", tickwidth=1.5, showgrid=False, zeroline=False,
              showline=True, linecolor="#000", linewidth=1.5, mirror="ticks", tickfont=font,
              title=dict(text=p["ytitle"], font=font, standoff=14), automargin=False)
    layout["xaxis"+p["ax"]] = ax
    layout["yaxis"+p["ax"]] = ay

# ---------- justified caption, word by word ----------
AW = {' ':278,'a':556,'b':556,'c':500,'d':556,'e':556,'f':278,'g':556,'h':556,'i':222,'j':222,'k':500,'l':222,'m':833,'n':556,'o':556,
      'p':556,'q':556,'r':333,'s':500,'t':278,'u':556,'v':500,'w':722,'x':500,'y':500,'z':500,':':278,',':278,'.':278,'(':333,')':333,
      '-':333,'S':667,'F':611,'D':722}
def width(word, fs):
    if word == "Figure":
        return 3.056*fs
    return sum(AW.get(ch, 556) for ch in word)*fs/1000
FS = 74.7
LEFT, RIGHT = 75, 3621
CAP_Y = [1318, 1409, 1498, 1587, 1677]
ann = []
for li, line in enumerate(CAPTION):
    words = line.split(" ")
    total = sum(width(w, FS) for w in words)
    gap = (RIGHT-LEFT-total)/(len(words)-1) if li < 4 else .278*FS
    x = LEFT
    for wi, w in enumerate(words):
        txt = w
        if li == 0 and wi == 0: txt = "<b>Figure</b>"
        if li == 0 and wi == 1: txt = "<b>1</b>:"
        ann.append(dict(text=txt, x=x/W, y=1-CAP_Y[li]/H, xref="paper", yref="paper", xanchor="left", yanchor="middle",
                        showarrow=False, borderpad=0, font=dict(family="Liberation Sans", size=FS, color="#000")))
        x += width(w, FS)+gap

shapes = [
 dict(type="line", xref="paper", yref="paper", x0=21/W, x1=1, y0=1-4/H, y1=1-4/H, line=dict(color="#222", width=2)),
 dict(type="line", xref="paper", yref="paper", x0=21/W, x1=21/W, y0=0, y1=1-4/H, line=dict(color="#222", width=2)),
]
fig.update_layout(width=W, height=H, margin=dict(l=0,r=0,t=0,b=0), paper_bgcolor="#fff", plot_bgcolor="#4d4d4d",
                  showlegend=False, annotations=ann, shapes=shapes, **layout)
fig.write_html("out.html", config=dict(displayModeBar=False),
               post_script="document.body.style.margin='0';document.body.style.overflow='hidden';")
